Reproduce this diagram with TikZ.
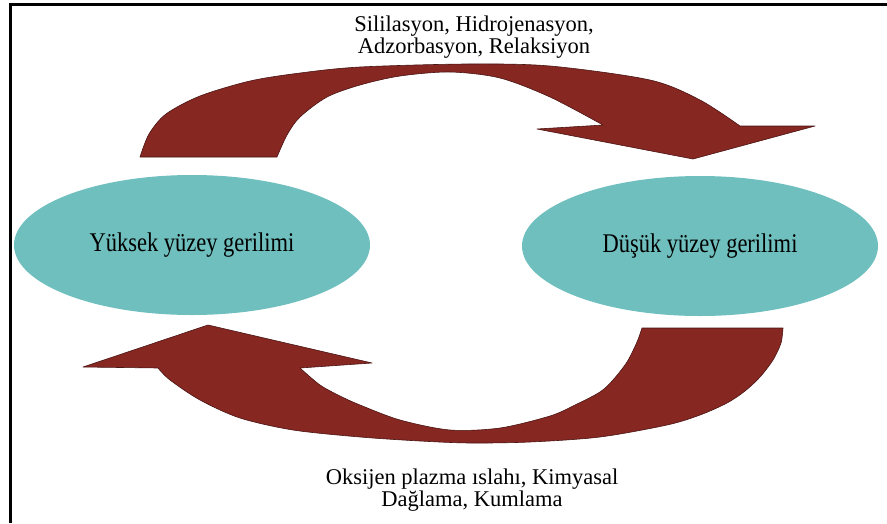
\documentclass[tikz,border=0pt]{standalone}
\usepackage{graphicx}
\usepackage{fontspec}
\setmainfont{Liberation Serif}
\usetikzlibrary{shapes.geometric}
\definecolor{brick}{RGB}{134,39,34}
\definecolor{seafill}{RGB}{111,191,190}
\newcommand{\tallword}[1]{\scalebox{1}[1.2]{#1}}
\tikzset{
  phase/.style={ellipse,fill=seafill,inner sep=0pt,minimum width=356pt,minimum height=140pt,font=\fontsize{22.5}{22}\selectfont},
  note/.style={align=center,inner sep=0pt,font=\fontsize{22.5}{22}\selectfont},
  band/.style={fill=brick,draw=brick!55!black,line width=0.6pt,line join=round},
  rim/.style={draw=black,line width=3pt}
}

\begin{document}
\begin{tikzpicture}[x=1pt,y=-1pt]
\useasboundingbox (0,0) rectangle (887,523);
\draw[rim] (10,523) -- (10,4.5) -- (887,4.5);
\filldraw[band] plot[smooth] coordinates {(140,157) (149,134) (166,114) (200,96) (250,81) (300,73) (360,67) (467,64) (550,66) (650,80) (700,100) (740,126)}
  -- (815,126) -- (693,159) -- (537,129) -- (603,125)
  -- plot[smooth] coordinates {(603,125) (550,97) (500,78) (450,72) (400,76) (360,85) (327,97) (300,117) (287,135) (277,157)} -- cycle;
\filldraw[band] plot[smooth] coordinates {(783,328) (781,343) (773,360) (760,377) (745,391) (727,403) (700,415) (667,425) (600,437) (530,442) (470,443) (420,441) (360,437) (293,430) (240,418) (200,400) (170,380) (158,368)}
  -- (83,367) -- (208,325) -- (372,363) -- (300,368)
  -- plot[smooth] coordinates {(300,368) (320,385) (340,396) (360,405) (400,420) (450,430) (500,428) (550,416) (575,405) (600,392) (613,380) (627,362) (637,342) (642,328)} -- cycle;
\node[phase] (high) at (192,245) {\tallword{Yüksek yüzey gerilimi}};
\node[phase] (low) at (700,246) {\tallword{Düşük yüzey gerilimi}};
\node[note] (topnote) at (474,37.5) {Sililasyon, Hidrojenasyon,\\Adzorbasyon, Relaksiyon};
\node[note] (botnote) at (472,490.5) {Oksijen plazma ıslahı, Kimyasal\\Dağlama, Kumlama};
\end{tikzpicture}
\end{document}
